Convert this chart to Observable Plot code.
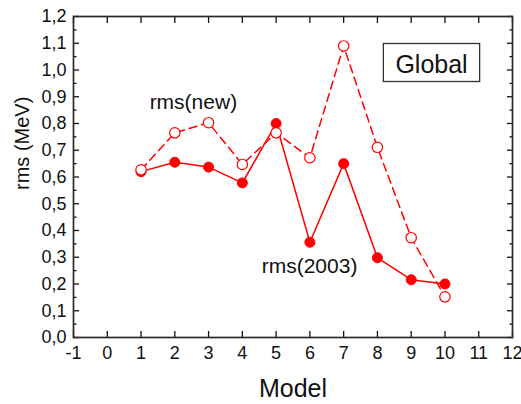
<!DOCTYPE html>
<html>
<head>
<meta charset="utf-8">
<script src="https://cdn.jsdelivr.net/npm/d3@7"></script>
<script src="https://cdn.jsdelivr.net/npm/@observablehq/plot@0.6"></script>
<style>
  body { margin: 0; background: #fff; }
  #chart svg { font-family: "Liberation Sans", Arial, sans-serif; }
</style>
</head>
<body>
<div id="chart"></div>
<script>
// Model index and rms deviations (MeV) for the two fits
const models = [1, 2, 3, 4, 5, 6, 7, 8, 9, 10];
const rms2003 = [0.620, 0.655, 0.637, 0.578, 0.800, 0.356, 0.650, 0.298, 0.216, 0.200];
const rmsNew  = [0.627, 0.765, 0.803, 0.647, 0.765, 0.672, 1.090, 0.711, 0.373, 0.152];

// Axis ticks
const xTicks = d3.range(-1, 13);
const yTicks = d3.range(0, 13).map(i => i / 10);
const yMinor = d3.range(0, 12).map(i => i / 10 + 0.05);

// In-plot annotations
const seriesLabels = [
  {text: "rms(new)", x: 2.55, y: 0.878},
  {text: "rms(2003)", x: 5.99, y: 0.265}
];
const panelTitle = ["Global"];

const commaFmt = d => d3.format(".1f")(d).replace(".", ",");
const plainFmt = d => String(d);

const old = models.map((m, i) => ({model: m, rms: rms2003[i]}));
const neu = models.map((m, i) => ({model: m, rms: rmsNew[i]}));

const red = "#ff0000";
const frameColor = "#2a2a2a";

const chart = Plot.plot({
  width: 521,
  height: 404,
  marginLeft: 73,
  marginRight: 9,
  marginTop: 16,
  marginBottom: 67,
  style: {fontFamily: "'Liberation Sans', Arial, sans-serif", background: "#fff", color: "#111"},
  x: {domain: [-1, 12]},
  y: {domain: [0, 1.2]},
  marks: [
    // inward ticks on all four sides
    Plot.axisX(xTicks, {anchor: "bottom", tickSize: -6, fill: "none", label: null, strokeWidth: 1.3}),
    Plot.axisX(xTicks, {anchor: "top", tickSize: -6, fill: "none", label: null, strokeWidth: 1.3}),
    Plot.axisY(yTicks, {anchor: "left", tickSize: -6, fill: "none", label: null, strokeWidth: 1.3}),
    Plot.axisY(yMinor, {anchor: "left", tickSize: -3.5, fill: "none", label: null, strokeWidth: 1.3}),
    Plot.axisY(yTicks, {anchor: "right", tickSize: -6, fill: "none", label: null, strokeWidth: 1.3}),
    Plot.axisY(yMinor, {anchor: "right", tickSize: -3.5, fill: "none", label: null, strokeWidth: 1.3}),
    // tick labels
    Plot.axisX(xTicks, {anchor: "bottom", tickSize: 0, tickPadding: 9, fontSize: 18, label: null, tickFormat: plainFmt}),
    Plot.axisY(yTicks, {anchor: "left", tickSize: 0, tickPadding: 7, fontSize: 18, label: null, tickFormat: commaFmt}),
    Plot.frame({stroke: frameColor, strokeWidth: 1.7}),
    // axis titles
    Plot.text(["Model"], {frameAnchor: "bottom", dy: 51, lineAnchor: "middle", fontSize: 25, fill: "#111"}),
    Plot.text(["rms (MeV)"], {frameAnchor: "left", dx: -51, dy: 13, rotate: -90, fontSize: 20, fill: "#111"}),
    // rms(2003): solid line with filled circles
    Plot.line(old, {x: "model", y: "rms", stroke: red, strokeWidth: 1.5}),
    Plot.dot(old, {x: "model", y: "rms", r: 5, fill: red, stroke: red, strokeWidth: 1}),
    // rms(new): dashed line with open circles
    Plot.line(neu, {x: "model", y: "rms", stroke: red, strokeWidth: 1.5, strokeDasharray: "8,5"}),
    Plot.dot(neu, {x: "model", y: "rms", r: 5.2, fill: "#fff", stroke: red, strokeWidth: 1.2}),
    // labels
    Plot.text(seriesLabels, {x: "x", y: "y", text: "text", fontSize: 21, fill: "#111"}),
    Plot.text(panelTitle, {frameAnchor: "top-right", dx: -81, dy: 48, lineAnchor: "middle", textAnchor: "middle", fontSize: 25, fill: "#111"})
  ]
});

document.getElementById("chart").appendChild(chart);

// Box around the panel title
const svg = chart.tagName.toLowerCase() === "svg" ? chart : chart.querySelector("svg");
for (const t of svg.querySelectorAll("text")) {
  if (t.textContent === panelTitle[0]) {
    const b = t.getBBox();
    const rect = document.createElementNS("http://www.w3.org/2000/svg", "rect");
    rect.setAttribute("x", b.x - 12);
    rect.setAttribute("y", b.y - 6);
    rect.setAttribute("width", b.width + 24);
    rect.setAttribute("height", b.height + 10);
    rect.setAttribute("fill", "#fff");
    rect.setAttribute("stroke", "#333");
    rect.setAttribute("stroke-width", "1.3");
    const tr = t.getAttribute("transform");
    if (tr) rect.setAttribute("transform", tr);
    t.parentNode.insertBefore(rect, t);
  }
}
</script>
</body>
</html>
